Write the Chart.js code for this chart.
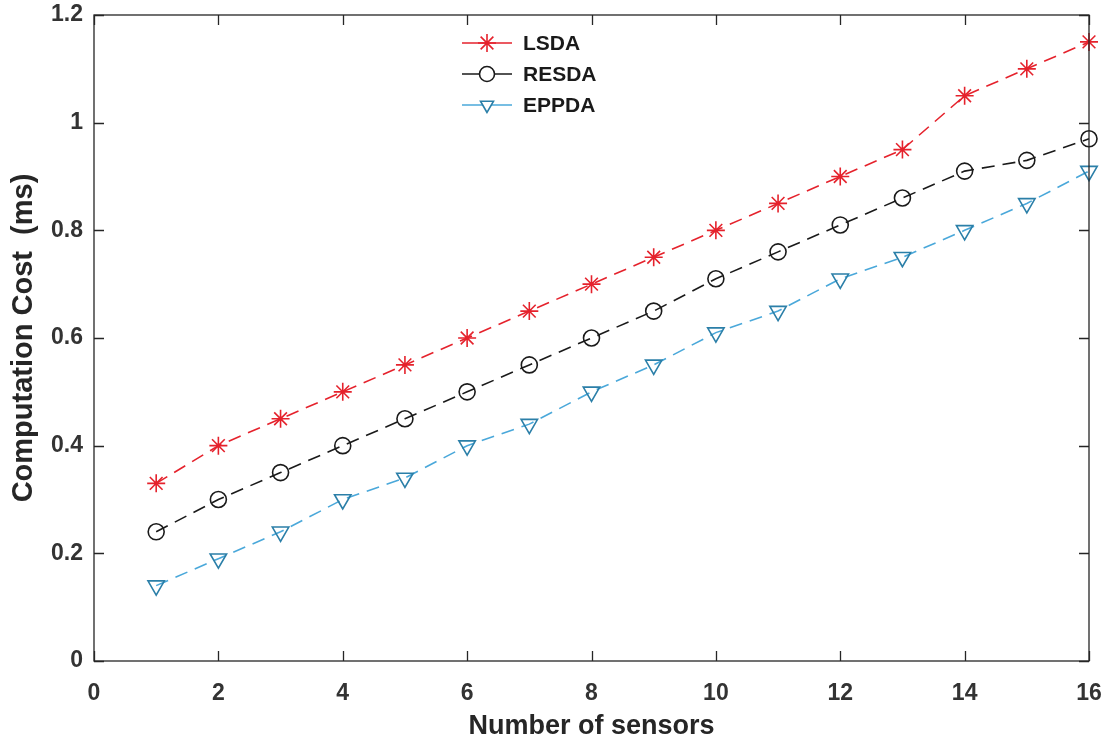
<!DOCTYPE html>
<html>
<head>
<meta charset="utf-8">
<script src="https://cdn.jsdelivr.net/npm/chart.js@4.4.1/dist/chart.umd.min.js"></script>
<style>
html,body{margin:0;padding:0;background:#fff;}
#wrap{width:1112px;height:749px;position:relative;}
</style>
</head>
<body>
<div id="wrap"><canvas id="c" width="1112" height="749"></canvas></div>
<script>
const sensors = [1,2,3,4,5,6,7,8,9,10,11,12,13,14,15,16];
const lsda  = [0.33,0.40,0.45,0.50,0.55,0.60,0.65,0.70,0.75,0.80,0.85,0.90,0.95,1.05,1.10,1.15];
const resda = [0.24,0.30,0.35,0.40,0.45,0.50,0.55,0.60,0.65,0.71,0.76,0.81,0.86,0.91,0.93,0.97];
const eppda = [0.14,0.19,0.24,0.30,0.34,0.40,0.44,0.50,0.55,0.61,0.65,0.71,0.75,0.80,0.85,0.91];
const seriesNames = ['LSDA','RESDA','EPPDA'];
const xTicks = [0,2,4,6,8,10,12,14,16];
const yTicks = [0,0.2,0.4,0.6,0.8,1,1.2];

const RED = '#e5222c', BLACK = '#1a1a1a', BLUE = '#4aa8da', BLUE_EDGE = '#2b7fa8';
const toPts = arr => sensors.map((s,i)=>({x:s,y:arr[i]}));

const styles = [
  {color:RED, border:RED, pointStyle:'star', radius:9, rotation:0},
  {color:BLACK, border:BLACK, pointStyle:'circle', radius:8, rotation:0},
  {color:BLUE, border:BLUE_EDGE, pointStyle:'triangle', radius:9.5, rotation:180}
];
const allData = [lsda,resda,eppda];

const datasets = allData.map((d,i)=>({
  label: seriesNames[i],
  data: toPts(d),
  borderColor: styles[i].color,
  borderWidth: 1.6,
  borderDash: [13,8],
  pointStyle: styles[i].pointStyle,
  pointRadius: styles[i].radius,
  pointRotation: styles[i].rotation,
  pointBorderColor: styles[i].border,
  pointBackgroundColor: 'rgba(0,0,0,0)',
  pointBorderWidth: 1.6,
  fill: false,
  tension: 0,
  clip: false
}));

const boxPlugin = {
  id:'box',
  afterDraw(chart){
    const {ctx, chartArea:a, scales:{x,y}} = chart;
    ctx.save();
    ctx.strokeStyle = '#262626';
    ctx.lineWidth = 1.3;
    ctx.strokeRect(a.left, a.top, a.right-a.left, a.bottom-a.top);
    const L = 10;
    ctx.beginPath();
    xTicks.forEach(v=>{
      const px = Math.round(x.getPixelForValue(v))+0.5;
      ctx.moveTo(px,a.bottom); ctx.lineTo(px,a.bottom-L);
      ctx.moveTo(px,a.top); ctx.lineTo(px,a.top+L);
    });
    yTicks.forEach(v=>{
      const py = Math.round(y.getPixelForValue(v))+0.5;
      ctx.moveTo(a.left,py); ctx.lineTo(a.left+L,py);
      ctx.moveTo(a.right,py); ctx.lineTo(a.right-L,py);
    });
    ctx.stroke();

    // legend
    const lx0 = 462, lx1 = 512, tx = 523;
    const rows = [43,74,105];
    ctx.font = 'bold 21px "Liberation Sans", Arial, sans-serif';
    ctx.textBaseline = 'middle';
    ctx.textAlign = 'left';
    datasets.forEach((ds,i)=>{
      const yy = rows[i];
      ctx.strokeStyle = ds.borderColor;
      ctx.lineWidth = 1.6;
      ctx.setLineDash([]);
      ctx.beginPath(); ctx.moveTo(lx0,yy); ctx.lineTo(lx1,yy); ctx.stroke();
      ctx.strokeStyle = ds.pointBorderColor;
      ctx.fillStyle = '#ffffff';
      const r = ds.pointStyle==='star' ? 9 : 7.5;
      Chart.helpers.drawPoint(ctx,{pointStyle:ds.pointStyle,radius:r,rotation:ds.pointRotation,borderWidth:1.6},(lx0+lx1)/2,yy);
      ctx.fillStyle = '#1a1a1a';
      ctx.fillText(ds.label, tx, yy+1);
    });
    ctx.restore();
  }
};

const font = {family:'"Liberation Sans", Arial, sans-serif', weight:'bold'};

new Chart(document.getElementById('c'),{
  type:'line',
  data:{datasets},
  options:{
    responsive:false,
    animation:false,
    devicePixelRatio:1,
    layout:{padding:{left:0,right:23,top:15,bottom:0}},
    plugins:{legend:{display:false},tooltip:{enabled:false}},
    scales:{
      x:{
        type:'linear', min:0, max:16,
        afterBuildTicks(s){ s.ticks = xTicks.map(v=>({value:v})); },
        afterFit(s){ s.height = 88; s.paddingLeft = 0; s.paddingRight = 0; },
        grid:{display:false, drawTicks:false},
        border:{display:false},
        ticks:{padding:19, color:'#333', font:{...font,size:23}, maxRotation:0},
        title:{display:true, text:'Number of sensors', color:'#262626', font:{...font,size:27}, padding:{top:0,bottom:6}}
      },
      y:{
        min:0, max:1.2,
        afterBuildTicks(s){ s.ticks = yTicks.map(v=>({value:v})); },
        afterFit(s){ s.width = 94; s.paddingTop = 0; s.paddingBottom = 0; },
        grid:{display:false, drawTicks:false},
        border:{display:false},
        ticks:{padding:11, color:'#333', font:{...font,size:23}, callback:v=>String(Math.round(v*10)/10)},
        title:{display:true, text:'Computation Cost  (ms)', color:'#262626', font:{...font,size:29}, padding:{top:7,bottom:0}}
      }
    }
  },
  plugins:[boxPlugin]
});
</script>
</body>
</html>
